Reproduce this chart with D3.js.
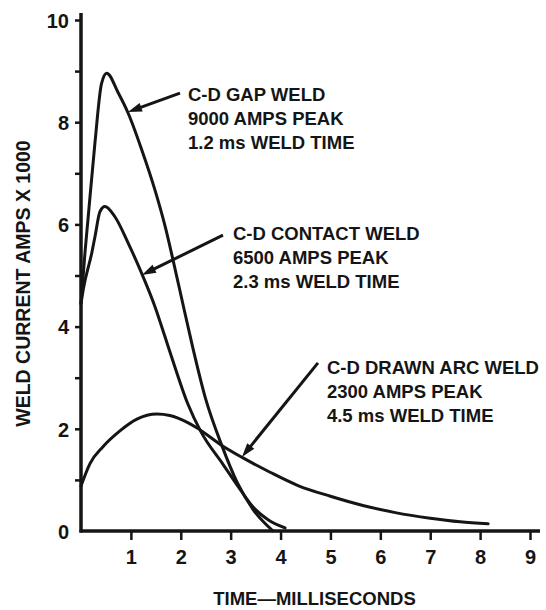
<!DOCTYPE html>
<html><head><meta charset="utf-8">
<script src="https://cdn.jsdelivr.net/npm/d3@7"></script>
<style>
body{margin:0;background:#fff}
svg{display:block}
text{font-family:"Liberation Sans",Arial,Helvetica,sans-serif;font-weight:bold;fill:#151515}
</style>
</head><body>
<svg id="c" width="546" height="610"></svg>
<script>
// ---- data ----
const xTicks = [1, 2, 3, 4, 5, 6, 7, 8, 9];
const yTicks = [0, 1, 2, 3, 4, 5, 6, 7, 8, 9, 10];
const yTickLabels = [0, 2, 4, 6, 8, 10];
const gapWeld = [[0,4.45],[0.08,5.45],[0.14,6.1],[0.28,7.6],[0.41,8.75],[0.515,8.96],[0.748,8.57],[0.948,8.17],[1.217,7.46],[1.483,6.67],[1.684,5.97],[1.818,5.42],[2.018,4.55],[2.219,3.68],[2.5,2.58],[2.82,1.68],[3.13,0.95],[3.45,0.42],[3.85,0]];
const contactWeld = [[0,4.45],[0.05,4.75],[0.22,5.46],[0.28,5.76],[0.38,6.25],[0.48,6.35],[0.68,6.15],[0.948,5.63],[1.217,5.04],[1.483,4.39],[1.684,3.8],[1.818,3.4],[2.14,2.49],[2.4,1.95],[2.85,1.3],[3.2,0.8],[3.45,0.47],[3.75,0.22],[4.09,0.06]];
const drawnArcWeld = [[0,0.88],[0.18,1.32],[0.44,1.65],[0.78,1.96],[1.12,2.19],[1.52,2.29],[1.78,2.26],[2.14,2.12],[2.32,2.02],[2.83,1.67],[3.23,1.44],[3.79,1.15],[4.35,0.89],[5.0,0.68],[5.65,0.5],[6.3,0.36],[7.0,0.25],[7.6,0.18],[8.16,0.14]];
const gapLabel = ["C-D GAP WELD", "9000 AMPS PEAK", "1.2 ms WELD TIME"];
const contactLabel = ["C-D CONTACT WELD", "6500 AMPS PEAK", "2.3 ms WELD TIME"];
const arcLabel = ["C-D DRAWN ARC WELD", "2300 AMPS PEAK", "4.5 ms WELD TIME"];
const xTitle = "TIME\u2014MILLISECONDS";
const yTitle = "WELD CURRENT AMPS X 1000";

// ---- drawing ----
const svg = d3.select("#c");
const x = d3.scaleLinear().domain([0, 9]).range([81, 530]);
const y = d3.scaleLinear().domain([0, 10]).range([531, 20]);
const ink = "#151515";

// curves
const line = d3.line().x(d => x(d[0])).y(d => y(d[1])).curve(d3.curveMonotoneX);
[gapWeld, contactWeld, drawnArcWeld].forEach(s => {
  svg.append("path").attr("d", line(s)).attr("fill", "none")
    .attr("stroke", ink).attr("stroke-width", 3).attr("stroke-linejoin", "round").attr("stroke-linecap", "round");
});

// y axis
const yAxis = d3.axisLeft(y).tickValues(yTicks).tickSize(6).tickPadding(6)
  .tickFormat(d => yTickLabels.includes(d) ? d : "");
const gy = svg.append("g").attr("transform", `translate(${x(0)},0)`).call(yAxis);
gy.select(".domain").remove();
gy.selectAll(".tick line").attr("stroke", ink).attr("stroke-width", 2.5);
gy.selectAll(".tick").filter(d => d === 0).select("line").remove();
gy.selectAll(".tick text").attr("font-size", 20).attr("fill", ink).attr("dy", "0.36em");
svg.append("line").attr("x1", x(0)).attr("x2", x(0)).attr("y1", 13).attr("y2", y(0) + 1.5)
  .attr("stroke", ink).attr("stroke-width", 3.5);

// x axis
const xAxis = d3.axisBottom(x).tickValues(xTicks).tickSize(9).tickPadding(10);
const gx = svg.append("g").attr("transform", `translate(0,${y(0)})`).call(xAxis);
gx.select(".domain").remove();
gx.selectAll(".tick line").attr("stroke", ink).attr("stroke-width", 2.5);
gx.selectAll(".tick text").attr("font-size", 20).attr("fill", ink);
svg.append("line").attr("x1", x(0) - 1.5).attr("x2", 540).attr("y1", y(0)).attr("y2", y(0))
  .attr("stroke", ink).attr("stroke-width", 3.5);

// titles
svg.append("text").attr("x", 314.5).attr("y", 605).attr("text-anchor", "middle")
  .attr("font-size", 18.5).text(xTitle);
svg.append("text").attr("transform", "translate(30,283.5) rotate(-90)").attr("text-anchor", "middle")
  .attr("font-size", 19.5).text(yTitle);

// annotations
function arrow(t0, v0, t1, v1) {
  const x0 = x(t0), y0 = y(v0), x1 = x(t1), y1 = y(v1);
  const dx = x1 - x0, dy = y1 - y0, L = Math.hypot(dx, dy), ux = dx / L, uy = dy / L;
  const hl = 14, hw = 4.5;
  const bx = x1 - ux * hl, by = y1 - uy * hl;
  svg.append("line").attr("x1", x0).attr("y1", y0).attr("x2", bx + ux * 2).attr("y2", by + uy * 2)
    .attr("stroke", ink).attr("stroke-width", 3);
  svg.append("path").attr("d", `M${x1},${y1}L${bx - uy * hw},${by + ux * hw}L${bx + uy * hw},${by - ux * hw}Z`)
    .attr("fill", ink);
}
function label(lines, t, v) {
  const tx = svg.append("text").attr("font-size", 18.5);
  lines.forEach((s, i) => tx.append("tspan").attr("x", x(t)).attr("y", y(v) + i * 24).text(s));
}
arrow(1.984, 8.57, 0.942, 8.2);
label(gapLabel, 2.144, 8.41);
arrow(2.846, 5.79, 1.222, 5.01);
label(contactLabel, 3.046, 5.69);
arrow(4.75, 3.29, 3.226, 1.45);
label(arcLabel, 4.93, 3.07);
</script>
</body></html>
